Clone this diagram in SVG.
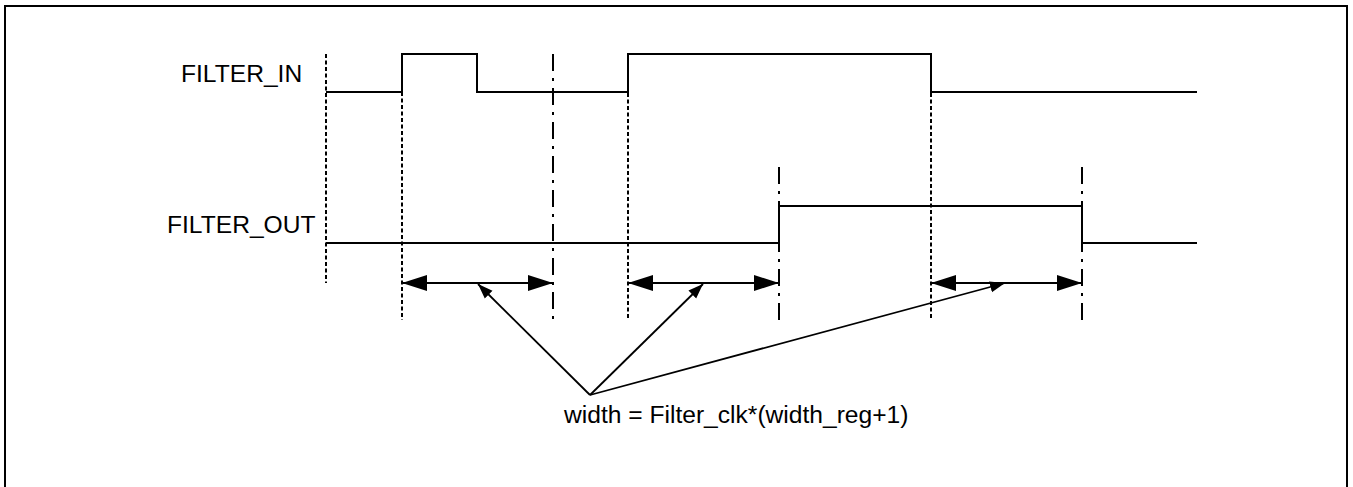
<svg xmlns="http://www.w3.org/2000/svg" width="1353" height="487" viewBox="0 0 1353 487">
<style>
.frame{fill:none;stroke:#000;stroke-width:2}
.sig{fill:none;stroke:#000;stroke-width:2;stroke-linejoin:miter}
.dash{fill:none;stroke:#000;stroke-width:2;stroke-dasharray:4,2.5}
.dashdot{fill:none;stroke:#000;stroke-width:2;stroke-dasharray:17,7,3,7}
.dim{fill:none;stroke:#000;stroke-width:2;marker-start:url(#tri);marker-end:url(#tri)}
.ptr{fill:none;stroke:#000;stroke-width:1.8;marker-end:url(#ptr)}
.lbl{font-family:"Liberation Sans",Arial,sans-serif;font-size:24.6px;fill:#000}
</style>
<defs>
<marker id="tri" markerUnits="userSpaceOnUse" markerWidth="26" markerHeight="18" refX="25" refY="8.5" orient="auto-start-reverse">
<path d="M0,0.5 L25,8.5 L0,16.5 z" fill="#000"/>
</marker>
<marker id="ptr" markerUnits="userSpaceOnUse" markerWidth="16" markerHeight="12" refX="15" refY="6" orient="auto">
<path d="M0,0.5 L15,6 L0,11.5 z" fill="#000"/>
</marker>
</defs>
<rect class="frame" x="5" y="6" width="1342" height="500"/>
<g id="guides">
<line class="dash" x1="326" y1="54" x2="326" y2="283"/>
<line class="dash" x1="402" y1="92" x2="402" y2="320"/>
<line class="dashdot" x1="553" y1="54" x2="553" y2="320"/>
<line class="dash" x1="628" y1="54" x2="628" y2="320"/>
<line class="dashdot" x1="779" y1="167" x2="779" y2="320"/>
<line class="dash" x1="931" y1="54" x2="931" y2="320"/>
<line class="dashdot" x1="1082" y1="167" x2="1082" y2="320"/>
</g>
<g id="filter_in">
<text class="lbl" x="181" y="82">FILTER_IN</text>
<path class="sig" d="M326,92 H402 V54 H477 V92 H628 V54 H931 V92 H1197"/>
</g>
<g id="filter_out">
<text class="lbl" x="167" y="233">FILTER_OUT</text>
<path class="sig" d="M326,243 H779 V206 H1082 V243 H1197"/>
</g>
<g id="formula">
<text class="lbl" x="564" y="423">width = Filter_clk*(width_reg+1)</text>
</g>
<g id="connectors">
<line class="dim" x1="402" y1="283" x2="553" y2="283"/>
<line class="dim" x1="628" y1="283" x2="779" y2="283"/>
<line class="dim" x1="931" y1="283" x2="1082" y2="283"/>
<line class="ptr" x1="590" y1="395" x2="478" y2="284"/>
<line class="ptr" x1="590" y1="395" x2="703" y2="284"/>
<line class="ptr" x1="590" y1="395" x2="1005" y2="283"/>
</g>
</svg>
